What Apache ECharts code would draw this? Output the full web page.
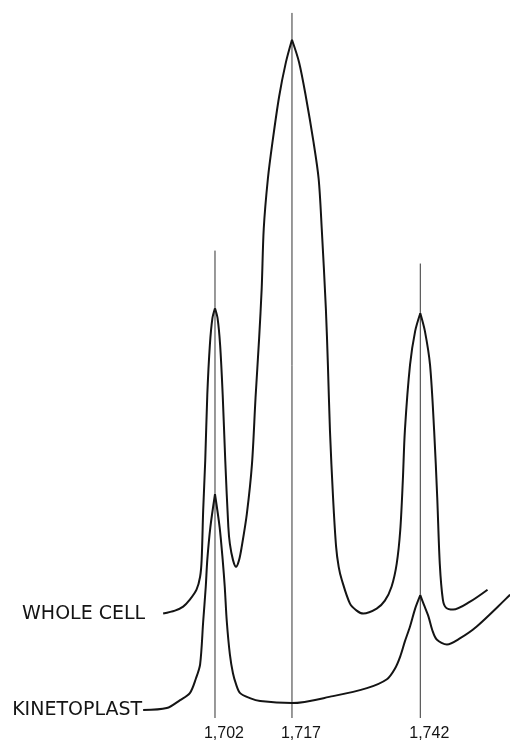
<!DOCTYPE html>
<html>
<head>
<meta charset="utf-8">
<script src="https://cdn.jsdelivr.net/npm/echarts@6/dist/echarts.min.js"></script>
<style>
  html, body { margin: 0; padding: 0; background: #fff; }
  #chart { width: 510px; height: 742px; }
</style>
</head>
<body>
<div id="chart"></div>
<script>
// Buoyant density (g/cm3) of each traced point and relative absorbance
const wholeCellDensity = [
  1.6919, 1.6942, 1.6958, 1.6971, 1.6984, 1.6991, 1.6994, 1.6997, 1.7001, 1.7005, 1.7010, 1.7015,
  1.7020, 1.7025, 1.7030, 1.7035, 1.7040, 1.7046, 1.7049, 1.7055, 1.7061, 1.7067,
  1.7072, 1.7082, 1.7092, 1.7099, 1.7106, 1.7111, 1.7115, 1.7123,
  1.7132, 1.7145, 1.7158, 1.7170, 1.7184, 1.7197, 1.7212, 1.7222, 1.7228, 1.7236, 1.7240, 1.7244,
  1.7250, 1.7256, 1.7261, 1.7267, 1.7283, 1.7296, 1.7309, 1.7335, 1.7351, 1.7364, 1.7374, 1.7381,
  1.7386, 1.7390, 1.7400, 1.7410, 1.7420, 1.7429, 1.7439, 1.7447, 1.7453, 1.7458,
  1.7464, 1.7470, 1.7484, 1.7517, 1.7551
];
const wholeCellAbsorbance = [
  10.5, 10.8, 11.2, 11.9, 12.9, 14.2, 15.9, 20.9, 25.9, 32.5, 37.5, 40.2,
  41.2, 40.2, 37.5, 32.5, 25.9, 19.2, 17.5, 15.9, 15.2, 15.9,
  17.2, 20.5, 25.5, 32.2, 38.2, 43.2, 49.2, 54.2,
  57.9, 62.5, 65.9, 68.2, 65.9, 62.5, 57.9, 54.2, 49.2, 41.2, 35.5, 28.9,
  22.2, 17.2, 15.2, 13.9, 11.5, 10.8, 10.5, 11.0, 11.8, 13.2, 15.5, 18.9,
  23.9, 28.9, 35.5, 38.9, 40.7, 38.9, 35.5, 28.9, 22.2, 15.5,
  11.9, 11.1, 10.9, 11.7, 12.9
];
const kinetoplastDensity = [
  1.6880, 1.6926, 1.6952, 1.6971, 1.6983, 1.6991, 1.6997, 1.7002, 1.7005, 1.7011,
  1.7020, 1.7029, 1.7035, 1.7039, 1.7043, 1.7049, 1.7055, 1.7061, 1.7069, 1.7088,
  1.7108, 1.7170, 1.7250, 1.7316, 1.7355, 1.7371, 1.7381, 1.7390, 1.7400, 1.7410,
  1.7420, 1.7427, 1.7436, 1.7443, 1.7452, 1.7472, 1.7497, 1.7530, 1.7595
];
const kinetoplastAbsorbance = [
  0.8, 1.0, 1.8, 2.5, 4.0, 5.4, 9.7, 13.2, 15.9, 19.2,
  22.5, 19.2, 15.9, 13.2, 9.7, 6.4, 4.5, 3.4, 2.5, 2.0,
  1.7, 1.5, 2.2, 3.0, 3.9, 5.0, 6.2, 7.7, 9.2, 11.0,
  12.35, 11.4, 10.2, 8.9, 7.9, 7.4, 8.0, 9.2, 12.4
];
const bandDensities = [1.702, 1.717, 1.742];
const bandLineTops = [47.0, 70.9, 45.7];
const tickLabels = ['1,702', '1,717', '1,742'];
const seriesNames = ['WHOLE CELL', 'KINETOPLAST'];

const INK = '#141414';

// Build line data; the curve is broken (and restarted) at each local maximum
// so the smoothing keeps the pointed tips of the trace.
function toPoints(xs, ys, name, labelDistance) {
  const out = [];
  xs.forEach((x, i) => {
    if (i === 0) {
      out.push({
        value: [x, ys[i]],
        label: {
          show: true,
          position: 'left',
          distance: labelDistance,
          formatter: name,
          fontFamily: 'DejaVu Sans',
          fontSize: 19,
          color: INK
        }
      });
      return;
    }
    out.push([x, ys[i]]);
    const isPeak = i < xs.length - 1 && ys[i] > ys[i - 1] && ys[i] > ys[i + 1];
    if (isPeak) {
      out.push([x, '-']);
      out.push([x, ys[i]]);
    }
  });
  return out;
}

const bandLineData = [];
bandDensities.forEach((d, i) => {
  bandLineData.push([d, 0]);
  bandLineData.push([d, bandLineTops[i]]);
  bandLineData.push([d, '-']);
});

const curveBase = {
  type: 'line',
  showSymbol: true,
  showAllSymbol: true,
  symbol: 'circle',
  symbolSize: 0,
  smooth: 0.3,
  connectNulls: false,
  itemStyle: { color: INK },
  lineStyle: { color: INK, width: 2 }
};

const chart = echarts.init(document.getElementById('chart'));
chart.setOption({
  animation: false,
  backgroundColor: '#ffffff',
  grid: { left: 0, right: 0, top: 0, bottom: 20 },
  xAxis: {
    type: 'value',
    min: 1.66011,
    max: 1.75948,
    axisLine: { show: false },
    axisTick: { show: false },
    splitLine: { show: false },
    axisLabel: {
      customValues: bandDensities,
      margin: 8,
      align: 'center',
      padding: [0, 0, 0, 18],
      fontFamily: 'Liberation Sans',
      fontSize: 16,
      color: INK,
      formatter: function (v) {
        const k = bandDensities.findIndex(d => Math.abs(d - v) < 1e-6);
        return k >= 0 ? tickLabels[k] : '';
      }
    }
  },
  yAxis: {
    type: 'value',
    min: 0,
    max: 72.2,
    show: false
  },
  series: [
    {
      name: 'bands',
      type: 'line',
      data: bandLineData,
      showSymbol: false,
      connectNulls: false,
      lineStyle: { color: '#333', width: 1 },
      silent: true
    },
    Object.assign({}, curveBase, {
      name: seriesNames[0],
      data: toPoints(wholeCellDensity, wholeCellAbsorbance, seriesNames[0], 18)
    }),
    Object.assign({}, curveBase, {
      name: seriesNames[1],
      data: toPoints(kinetoplastDensity, kinetoplastAbsorbance, seriesNames[1], 1)
    })
  ]
});
</script>
</body>
</html>
